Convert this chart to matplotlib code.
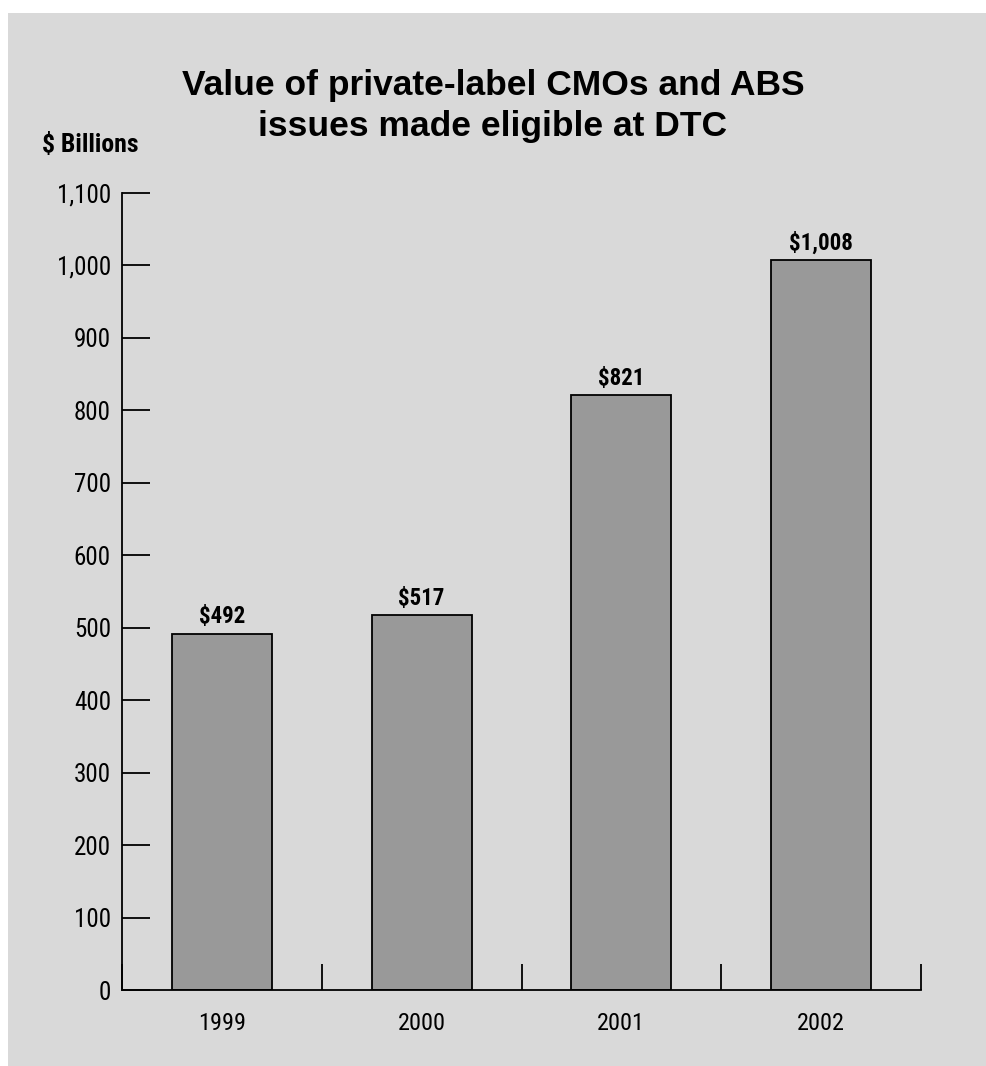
import matplotlib
matplotlib.use("Agg")
import matplotlib.pyplot as plt
from matplotlib.patches import Rectangle
from matplotlib.ticker import FuncFormatter

years = ["1999", "2000", "2001", "2002"]
values = [492, 517, 821, 1008]
value_labels = ["$492", "$517", "$821", "$1,008"]
yticks = [0, 100, 200, 300, 400, 500, 600, 700, 800, 900, 1000, 1100]

narrow = ["Roboto Condensed", "Liberation Sans Narrow", "Open Sans Condensed", "Roboto", "DejaVu Sans"]
bg = "#d9d9d9"

fig = plt.figure(figsize=(9.86, 10.66), dpi=100, facecolor="white")
fig.patches.append(Rectangle((8 / 986, 0), 1, 1 - 13 / 1066, transform=fig.transFigure,
                             facecolor=bg, edgecolor="none", zorder=-5))

ax = fig.add_axes([122 / 986, 1 - 990 / 1066, (921 - 122) / 986, (990 - 193) / 1066])
ax.set_facecolor(bg)

x = range(len(years))
ax.bar(x, values, width=0.5, color="#999999", edgecolor="black", linewidth=1.3, zorder=2)
for i, v in enumerate(values):
    ax.text(i, v + 7, value_labels[i], ha="center", va="bottom", fontsize=16.5,
            fontweight="bold", family=narrow)

ax.set_xlim(-0.5, 3.5)
ax.set_ylim(0, 1100)
ax.set_yticks(yticks)
ax.yaxis.set_major_formatter(FuncFormatter(lambda v, p: f"{int(v):,}"))
ax.tick_params(axis="y", direction="in", length=20, width=1.3, pad=8, labelsize=18)
ax.set_xticks([-0.5, 0.5, 1.5, 2.5, 3.5])
ax.set_xticklabels([])
ax.tick_params(axis="x", direction="in", length=19, width=1.3)
for i, y in enumerate(years):
    ax.text(i, -46, y, ha="center", va="center", fontsize=17.5, family=narrow)
for lab in ax.get_yticklabels():
    lab.set_family(narrow)

for s in ["top", "right"]:
    ax.spines[s].set_visible(False)
for s in ["left", "bottom"]:
    ax.spines[s].set_linewidth(1.3)

fig.text(493 / 986, 1 - 106 / 1066, "Value of private-label CMOs and ABS\nissues made eligible at DTC",
         ha="center", va="center", fontsize=25.5, fontweight="bold", family="Liberation Sans",
         linespacing=1.3)
fig.text(42 / 986, 1 - 145 / 1066, "$ Billions", ha="left", va="center", fontsize=18.5,
         fontweight="bold", family=narrow)

fig.savefig("out.png", dpi=100, facecolor=fig.get_facecolor())
